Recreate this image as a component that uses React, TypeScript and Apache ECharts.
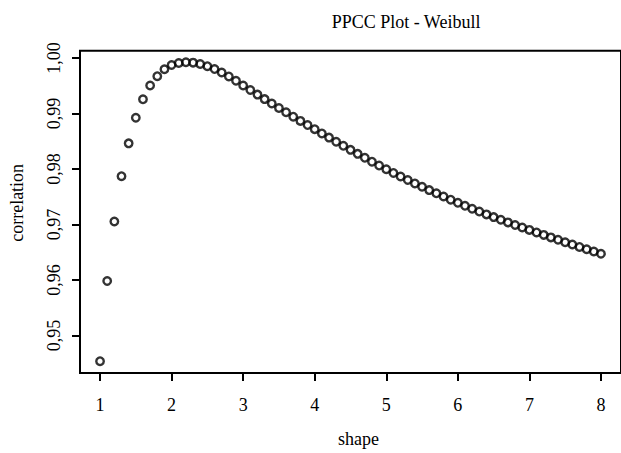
import React, { useEffect, useRef } from "react";
import * as echarts from "echarts";

const shapes: number[] = [
  1.0, 1.1, 1.2, 1.3, 1.4, 1.5, 1.6, 1.7, 1.8, 1.9,
  2.0, 2.1, 2.2, 2.3, 2.4, 2.5, 2.6, 2.7, 2.8, 2.9,
  3.0, 3.1, 3.2, 3.3, 3.4, 3.5, 3.6, 3.7, 3.8, 3.9,
  4.0, 4.1, 4.2, 4.3, 4.4, 4.5, 4.6, 4.7, 4.8, 4.9,
  5.0, 5.1, 5.2, 5.3, 5.4, 5.5, 5.6, 5.7, 5.8, 5.9,
  6.0, 6.1, 6.2, 6.3, 6.4, 6.5, 6.6, 6.7, 6.8, 6.9,
  7.0, 7.1, 7.2, 7.3, 7.4, 7.5, 7.6, 7.7, 7.8, 7.9,
  8.0,
];

const correlation: number[] = [
  0.94535, 0.9598, 0.97052, 0.97869, 0.9846, 0.98922, 0.99254, 0.99503, 0.99671, 0.99796,
  0.99872, 0.99908, 0.99922, 0.99915, 0.9989, 0.99851, 0.99799, 0.99737, 0.99666, 0.99588,
  0.99503, 0.99421, 0.99339, 0.99258, 0.99178, 0.99098, 0.9902, 0.98941, 0.98865, 0.9879,
  0.98716, 0.98639, 0.98564, 0.98489, 0.98416, 0.98343, 0.98271, 0.982, 0.9813, 0.9806,
  0.97993, 0.97927, 0.97863, 0.978, 0.97738, 0.97678, 0.97618, 0.9756, 0.97502, 0.97445,
  0.97389, 0.97335, 0.97282, 0.97231, 0.9718, 0.97131, 0.97083, 0.97036, 0.96989, 0.96944,
  0.96901, 0.96855, 0.96811, 0.96766, 0.96723, 0.96679, 0.96637, 0.96594, 0.96552, 0.96512,
  0.96471,
];

const xTicks: number[] = [1, 2, 3, 4, 5, 6, 7, 8];
const yTicks: number[] = [0.95, 0.96, 0.97, 0.98, 0.99, 1.0];

const titleText = "PPCC Plot - Weibull";
const xName = "shape";
const yName = "correlation";

const FONT = "Liberation Serif, Times New Roman, serif";

export default function App() {
  const ref = useRef<HTMLDivElement>(null);

  useEffect(() => {
    if (!ref.current) return;
    const chart = echarts.init(ref.current, undefined, { renderer: "svg" });
    const data = shapes.map((s, i) => [s, correlation[i]]);
    chart.setOption({
      animation: false,
      backgroundColor: "#ffffff",
      textStyle: { fontFamily: FONT },
      title: {
        text: titleText,
        left: 401,
        top: 8,
        textAlign: "center",
        textStyle: {
          fontFamily: FONT,
          fontWeight: "normal",
          fontSize: 18,
          color: "#000",
        },
      },
      grid: {
        left: 77.7,
        top: 50.7,
        width: 545.5,
        height: 327,
        show: true,
        borderColor: "#000",
        borderWidth: 2,
        backgroundColor: "transparent",
      },
      xAxis: {
        type: "value",
        min: 0.72,
        max: 8.28,
        name: xName,
        nameLocation: "middle",
        nameGap: 57,
        nameTextStyle: {
          fontFamily: FONT,
          fontSize: 18,
          color: "#000",
          padding: [0, 0, 0, 16],
        },
        axisLine: { show: false },
        splitLine: { show: false },
        axisTick: {
          show: true,
          inside: false,
          length: 8,
          customValues: xTicks,
          lineStyle: { color: "#000", width: 2 },
        },
        axisLabel: {
          customValues: xTicks,
          margin: 23,
          fontFamily: FONT,
          fontSize: 18,
          color: "#000",
          formatter: (v: number) => String(v),
        },
      },
      yAxis: {
        type: "value",
        min: 0.94322,
        max: 1.0013,
        name: yName,
        nameLocation: "middle",
        nameRotate: 90,
        nameGap: 54,
        nameTextStyle: {
          fontFamily: FONT,
          fontSize: 18,
          color: "#000",
          padding: [0, 0, 0, 18],
        },
        axisLine: { show: false },
        splitLine: { show: false },
        axisTick: {
          show: true,
          inside: false,
          length: 8,
          customValues: yTicks,
          lineStyle: { color: "#000", width: 2 },
        },
        axisLabel: {
          customValues: yTicks,
          rotate: 90,
          margin: 17,
          fontFamily: FONT,
          fontSize: 18,
          color: "#000",
          formatter: (v: number) => v.toFixed(2).replace(".", ","),
        },
      },
      series: [
        {
          type: "scatter",
          data,
          symbol: "circle",
          symbolSize: 7.5,
          itemStyle: {
            color: "transparent",
            borderColor: "#000",
            borderWidth: 2.4,
          },
          emphasis: { disabled: true },
        },
      ],
    });
    return () => {
      chart.dispose();
    };
  }, []);

  return (
    <div
      ref={ref}
      style={{ position: "fixed", left: 0, top: 0, width: 621, height: 453 }}
    />
  );
}
